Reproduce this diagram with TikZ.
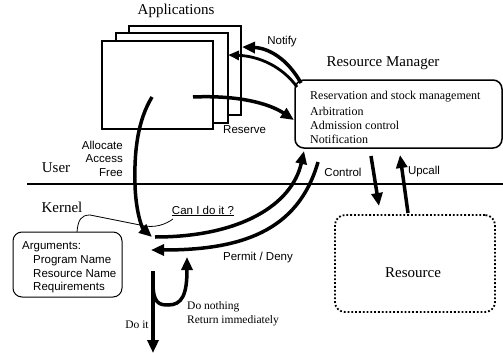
\documentclass[tikz,border=0pt]{standalone}
\usepackage{fontspec}
\setmainfont{Liberation Serif}
\setsansfont{Liberation Sans}
\usetikzlibrary{arrows.meta}
\begin{document}
\begin{tikzpicture}[x=1pt,y=-1pt,
  win/.style={draw, fill=white, line width=1.5pt},
  bigarrow/.style={line width=3.5pt, -{Triangle[length=13pt,width=11pt]}},
  medarrow/.style={line width=2.8pt, -{Triangle[length=11pt,width=9pt]}},
  serlab/.style={font=\fontsize{15}{18}\selectfont, inner sep=0pt},
  itemlab/.style={font=\fontsize{12}{14}\selectfont, inner sep=0pt, anchor=west},
  sanslab/.style={font=\sffamily\fontsize{11.5}{13}\selectfont, inner sep=0pt},
  smallser/.style={font=\fontsize{11.5}{13}\selectfont, inner sep=0pt},
]
\useasboundingbox (0,0) rectangle (503,353);

% Applications windows
\draw[win] (129,26) rectangle (241,115);
\draw[win] (116,33) rectangle (228,123);
\node[win, minimum width=111pt, minimum height=88pt, inner sep=0pt] (app) at (157.5,85) {};
\node[serlab] (applab) at (176,11) {Applications};

% Resource manager
\node[draw, line width=1.5pt, rounded corners=9pt, minimum width=207pt, minimum height=68pt, inner sep=0pt] (rm) at (398.5,114) {};
\node[serlab] (rmlab) at (383,63) {Resource Manager};
\node[itemlab] (i1) at (310,97) {Reservation and stock management};
\node[itemlab] (i2) at (310,111) {Arbitration};
\node[itemlab] (i3) at (310,125) {Admission control};
\node[itemlab] (i4) at (310,139) {Notification};

% User / Kernel separator
\coordinate (ul) at (27,184);
\coordinate (ur) at (503,184);
\draw[line width=1.5pt] (ul) -- (ur);
\node[serlab] (user) at (56,168) {User};
\node[serlab] (kernel) at (62,207) {Kernel};

% Resource
\node[draw, line width=1.8pt, dotted, rounded corners=10pt, minimum width=160pt, minimum height=97pt, inner sep=0pt] (res) at (415,263.5) {};
\node[serlab] (reslab) at (413,273) {Resource};

% Arguments box
\node[draw, line width=1pt, rounded corners=9pt, minimum width=109pt, minimum height=65pt, inner sep=0pt] (args) at (67.5,264.5) {};
\node[sanslab, anchor=west] (a0) at (22,247) {Arguments:};
\node[sanslab, anchor=west] (a1) at (33,260.5) {Program Name};
\node[sanslab, anchor=west] (a2) at (33,274) {Resource Name};
\node[sanslab, anchor=west] (a3) at (33,287.5) {Requirements};

% coordinates
\coordinate (appin) at (152,97);
\coordinate (k1) at (152,237);
\coordinate (k2) at (155,237);
\coordinate (rmcorner) at (304,151);
\coordinate (rmout) at (318,162);
\coordinate (k3) at (151,250);
\coordinate (resstart) at (193,97);
\coordinate (resend) at (294,120);
\coordinate (n1s) at (301,83);
\coordinate (n1e) at (242,47);
\coordinate (n2s) at (297,87);
\coordinate (n2e) at (228,55);
\coordinate (c1) at (371,156);
\coordinate (c2) at (379,206);
\coordinate (u1) at (408,213);
\coordinate (u2) at (400,155);
\coordinate (d1) at (153,271);
\coordinate (d2) at (153,353);
\coordinate (t1) at (153,283);
\coordinate (t2) at (187,257);
\coordinate (callstart) at (77,232);
\coordinate (callend) at (173,219);

% request from application into kernel
\draw[bigarrow] (appin) .. controls (138,120) and (134,150) .. (135,185) .. controls (136,215) and (143,229) .. (k1);
\node[sanslab, anchor=east] (alloc) at (123,145) {Allocate};
\node[sanslab, anchor=east] (access) at (123,159) {Access};
\node[sanslab, anchor=east] (free) at (123,173) {Free};

% kernel to resource manager
\draw[bigarrow] (k2) .. controls (240,237) and (292,205) .. (rmcorner);
% permit / deny
\draw[bigarrow] (rmout) .. controls (298,232) and (240,250) .. (k3);
\node[sanslab] (pd) at (258,258) {Permit / Deny};

% reserve
\draw[bigarrow] (resstart) .. controls (240,95) and (270,104) .. (resend);
\node[sanslab, anchor=west] (reserve) at (223,130) {Reserve};

% notify
\draw[bigarrow] (n1s) .. controls (287,58) and (268,48) .. (n1e);
\draw[medarrow] (n2s) .. controls (282,66) and (258,56) .. (n2e);
\node[sanslab] (notify) at (282,42) {Notify};

% control / upcall
\draw[bigarrow] (c1) -- (c2);
\draw[bigarrow] (u1) -- (u2);
\node[sanslab] (control) at (343,172) {Control};
\node[sanslab] (upcall) at (424,172) {Upcall};

% Can I do it callout
\node[sanslab] (can) at (203,211) {\underline{Can I do it ?}};
\draw[line width=0.8pt] (callstart) .. controls (78,220) and (81,215) .. (90,215) -- (140,225) .. controls (155,229) and (166,224) .. (callend);

% do it / do nothing
\draw[bigarrow] (d1) -- (d2);
\node[smallser] (doit) at (137,325) {Do it};
\draw[bigarrow] (t1) .. controls (153,303) and (159,305) .. (168,305) .. controls (182,305) and (187,295) .. (t2);
\node[smallser, anchor=west] (dn) at (187,307) {Do nothing};
\node[smallser, anchor=west] (ri) at (187,321) {Return immediately};
\end{tikzpicture}
\end{document}
